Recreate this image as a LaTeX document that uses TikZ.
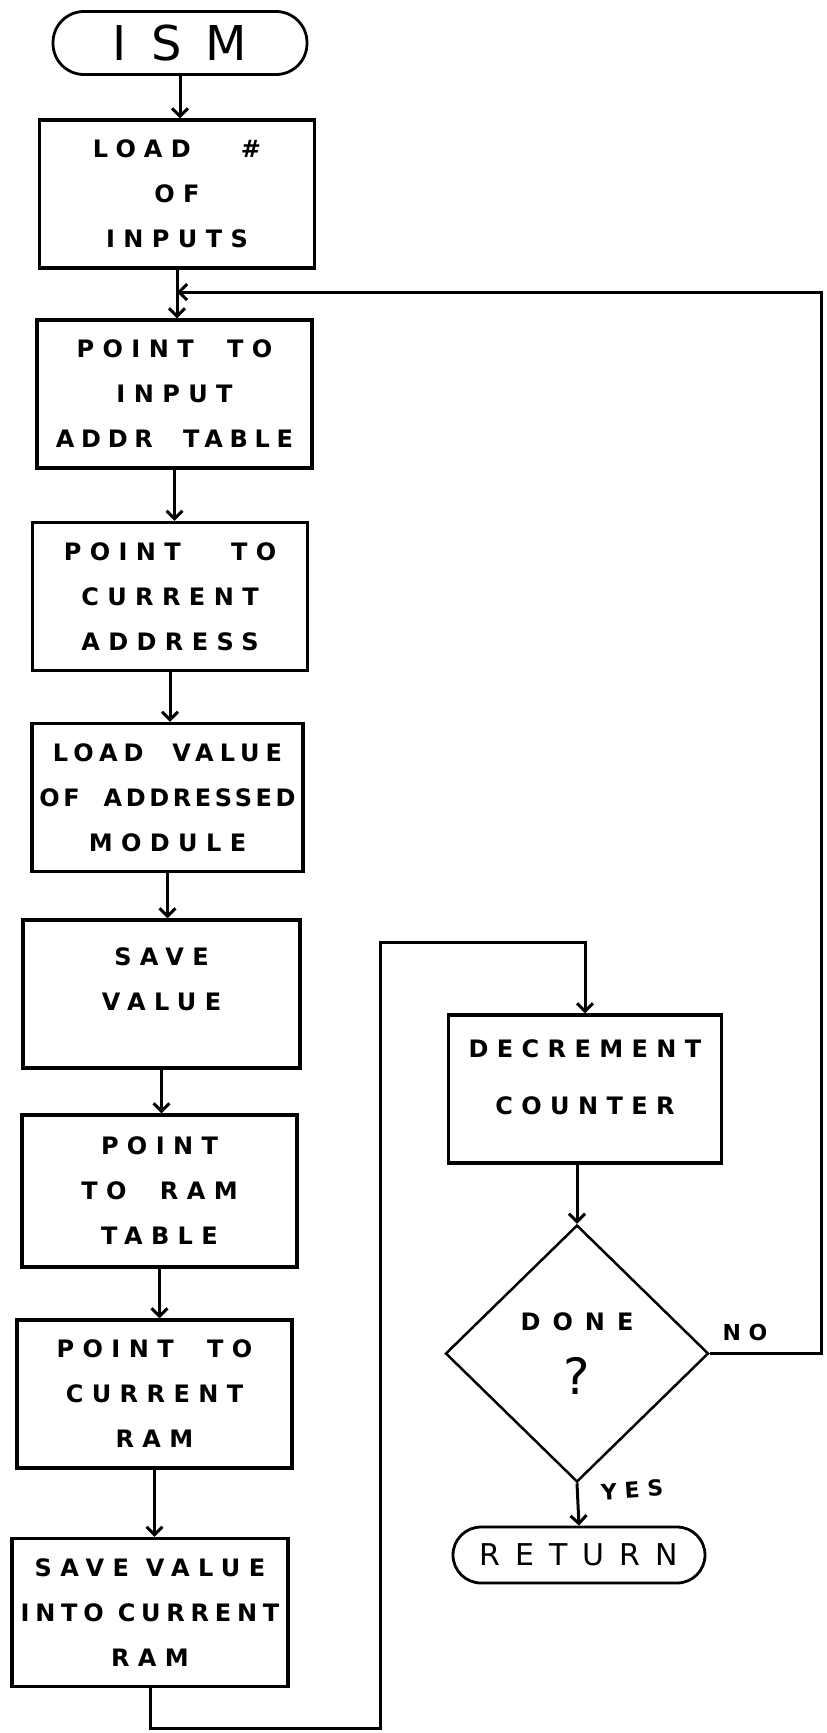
\documentclass[tikz,border=0pt]{standalone}
\usepackage{fontspec}
\setmainfont{DejaVu Sans}
\newfontfamily\hand[LetterSpace=35]{DejaVu Sans}
\newfontfamily\handwide[LetterSpace=50]{DejaVu Sans}
\usetikzlibrary{shapes.geometric,arrows.meta,calc}
\tikzset{
  stepbox/.style={draw, line width=3.2pt, minimum width=275pt, minimum height=148pt,
    inner sep=0pt, align=center, font=\hand\bfseries\fontsize{24}{45}\selectfont},
  term/.style={draw, line width=2.8pt, inner sep=0pt, align=center},
  arr/.style={line width=3pt, -{Straight Barb[length=8pt,width=16pt]}},
  lbl/.style={inner sep=0pt, font=\hand\bfseries\fontsize{22}{22}\selectfont},
}
\begin{document}
\begin{tikzpicture}[x=1pt,y=-1pt]
\useasboundingbox (0,0) rectangle (827,1733);
% terminals
\node[term, minimum width=254pt, minimum height=63pt, rounded corners=31pt,
      font=\handwide\fontsize{48}{48}\selectfont] (ism) at (180,43) {ISM};
% process boxes
\node[stepbox] (b1) at (177,194) {LOAD~~~\#\\OF\\INPUTS};
\node[stepbox] (b2) at (174.5,394) {POINT~~TO\\INPUT\\{\addfontfeature{LetterSpace=28}ADDR~~TABLE}};
\node[stepbox] (b3) at (170,596.5) {POINT~~~TO\\CURRENT\\ADDRESS};
\node[stepbox, minimum width=271pt] (b4) at (167.5,797.5)
  {{\addfontfeature{LetterSpace=25}LOAD~~VALUE}\\{\addfontfeature{LetterSpace=15}OF~~ADDRESSED}\\MODULE};
\node[stepbox, minimum width=277pt] (b5) at (161.5,994) {SAVE\\VALUE\\[-28pt]\strut};
\node[stepbox, minimum height=152pt] (b6) at (159.5,1191) {POINT\\TO~~RAM\\TABLE};
\node[stepbox] (b7) at (154.5,1394) {POINT~~TO\\CURRENT\\RAM};
\node[stepbox, minimum width=276pt] (b8) at (150,1612.5)
  {SAVE VALUE\\{\addfontfeature{LetterSpace=24}INTO CURRENT}\\RAM};
\node[stepbox, minimum width=273pt] (dec) at (585,1089) {DECREMENT\\[12pt]COUNTER\\[-34pt]\strut};
% decision
\node[diamond, draw, line width=2.5pt, minimum width=263pt, minimum height=257pt,
      inner sep=0pt, align=center] (dia) at (577,1353.5)
  {{\handwide\bfseries\fontsize{24}{24}\selectfont DONE}\\[26pt]{\fontsize{50}{50}\selectfont ?}};
\node[term, minimum width=252pt, minimum height=56pt, rounded corners=28pt,
      font=\handwide\fontsize{30}{30}\selectfont] (ret) at (579,1555) {RETURN};
% labels
\node[lbl] (no) at (745,1332) {NO};
\node[lbl, rotate=4] (yes) at (632,1490) {YES};
% helper coordinates
\coordinate (rtop) at (821,292);
\coordinate (merge) at (b1.south |- rtop);
\coordinate (lb) at (380,1728);
\coordinate (lt) at (380,942);
% main flow
\draw[arr] (ism) -- (ism |- b1.north);
\draw[arr] (b1) -- (b1 |- b2.north);
\draw[arr] (b2) -- (b2 |- b3.north);
\draw[arr] (b3) -- (b3 |- b4.north);
\draw[arr] (b4) -- (b4 |- b5.north);
\draw[arr] (b5) -- (b5 |- b6.north);
\draw[arr] (b6) -- (b6 |- b7.north);
\draw[arr] (b7) -- (b7 |- b8.north);
\draw[arr] (b8.south) |- (lb) -- (lt) -| (dec.north);
\draw[arr] (dia.north |- dec.south) -- (dia.north);
\draw[arr] (dia.south) -- (ret.north);
\draw[arr] (dia.east) -| (rtop) -- (merge);
\end{tikzpicture}
\end{document}
